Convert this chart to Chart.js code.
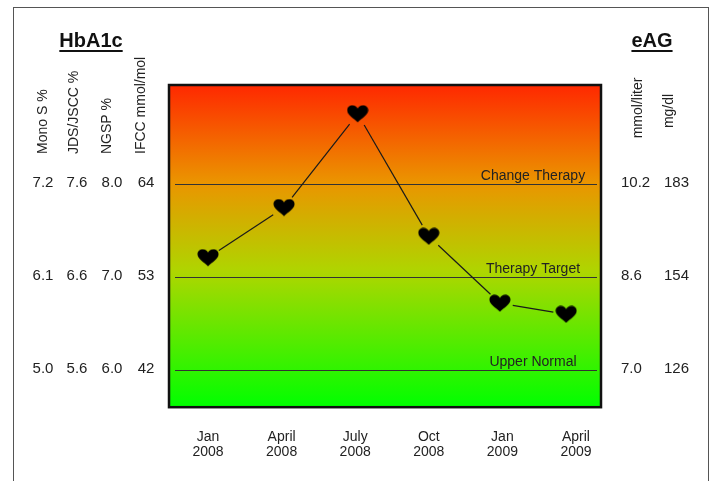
<!DOCTYPE html>
<html>
<head>
<meta charset="utf-8">
<script src="https://cdn.jsdelivr.net/npm/chart.js@4.4.1/dist/chart.umd.min.js"></script>
<style>
  body { margin: 0; background: #fff; }
  #wrap { width: 710px; height: 481px; }
</style>
</head>
<body>
<div id="wrap"><canvas id="hba1cChart" width="710" height="481"></canvas></div>
<script>
// dados
const categories = [["Jan", "2008"], ["April", "2008"], ["July", "2008"], ["Oct", "2008"], ["Jan", "2009"], ["April", "2009"]];
const tickMonths = [0, 3, 6, 9, 12, 15];
const testMonths = [0, 3.1, 6.1, 9.0, 11.9, 14.6];
const ngspValues = [7.21, 7.75, 8.76, 7.44, 6.72, 6.60];

const levelValues = [8.0, 7.0, 6.0];
const levelNames = ["Change Therapy", "Therapy Target", "Upper Normal"];
const monoS = ["7.2", "6.1", "5.0"];
const jdsJscc = ["7.6", "6.6", "5.6"];
const ngsp = ["8.0", "7.0", "6.0"];
const ifcc = ["64", "53", "42"];
const mmolLiter = ["10.2", "8.6", "7.0"];
const mgDl = ["183", "154", "126"];

const FONT = '"Liberation Sans", Arial, sans-serif';
const TEXT = "#222";

function makeHeart() {
  const c = document.createElement("canvas");
  c.width = 22;
  c.height = 18;
  const ctx = c.getContext("2d");
  ctx.fillStyle = "#000";
  ctx.beginPath();
  ctx.moveTo(11, 17.5);
  ctx.bezierCurveTo(7, 13.5, 0.5, 10, 0.5, 5.5);
  ctx.bezierCurveTo(0.5, 2, 3, 0.5, 5.8, 0.5);
  ctx.bezierCurveTo(8.3, 0.5, 10.2, 2, 11, 3.8);
  ctx.bezierCurveTo(11.8, 2, 13.7, 0.5, 16.2, 0.5);
  ctx.bezierCurveTo(19, 0.5, 21.5, 2, 21.5, 5.5);
  ctx.bezierCurveTo(21.5, 10, 15, 13.5, 11, 17.5);
  ctx.closePath();
  ctx.fill();
  return c;
}

const backgroundPlugin = {
  id: "background",
  beforeDatasetsDraw(chart) {
    const { ctx, chartArea: a, scales } = chart;
    ctx.save();
    const grad = ctx.createLinearGradient(0, a.top, 0, a.bottom);
    grad.addColorStop(0, "#ff2800");
    grad.addColorStop(0.3, "#eb9400");
    grad.addColorStop(0.58, "#aed600");
    grad.addColorStop(1, "#00ff00");
    ctx.fillStyle = grad;
    ctx.fillRect(a.left, a.top, a.right - a.left, a.bottom - a.top);

    // linhas de referência
    ctx.strokeStyle = "#333";
    ctx.lineWidth = 1;
    ctx.font = "14px " + FONT;
    ctx.fillStyle = TEXT;
    ctx.textAlign = "center";
    ctx.textBaseline = "alphabetic";
    levelValues.forEach((v, i) => {
      const y = Math.round(scales.y.getPixelForValue(v)) + 0.5;
      ctx.beginPath();
      ctx.moveTo(a.left + 6, y);
      ctx.lineTo(a.right - 4, y);
      ctx.stroke();
      ctx.fillText(levelNames[i], a.right - 68, y - 5);
    });

    // segmentos entre os corações, sem encostar
    const pts = chart.getDatasetMeta(0).data;
    ctx.strokeStyle = "#1a1a1a";
    ctx.lineWidth = 1.2;
    for (let i = 0; i < pts.length - 1; i++) {
      const p = pts[i], q = pts[i + 1];
      const dx = q.x - p.x, dy = q.y - p.y;
      const len = Math.sqrt(dx * dx + dy * dy);
      const gap = 13;
      ctx.beginPath();
      ctx.moveTo(p.x + dx / len * gap, p.y + dy / len * gap);
      ctx.lineTo(q.x - dx / len * gap, q.y - dy / len * gap);
      ctx.stroke();
    }
    ctx.restore();
  },
  afterDraw(chart) {
    const { ctx, chartArea: a, scales } = chart;
    ctx.save();
    // moldura da área
    ctx.strokeStyle = "#111";
    ctx.lineWidth = 2.5;
    ctx.strokeRect(a.left, a.top, a.right - a.left, a.bottom - a.top);

    // borda externa
    ctx.strokeStyle = "#555";
    ctx.lineWidth = 1;
    ctx.strokeRect(13.5, 7.5, 695, 500);

    // títulos
    ctx.fillStyle = "#111";
    ctx.font = "bold 20px " + FONT;
    ctx.textAlign = "center";
    ctx.textBaseline = "middle";
    ctx.fillText("HbA1c", 91, 41);
    ctx.fillText("eAG", 652, 41);
    ctx.fillRect(91 - ctx.measureText("HbA1c").width / 2, 50, ctx.measureText("HbA1c").width, 2);
    ctx.fillRect(652 - ctx.measureText("eAG").width / 2, 50, ctx.measureText("eAG").width, 2);

    // cabeçalhos girados
    ctx.fillStyle = TEXT;
    ctx.font = "14px " + FONT;
    const leftHeads = [["Mono S %", 43.5], ["JDS/JSCC %", 74], ["NGSP %", 107.5], ["IFCC mmol/mol", 141]];
    leftHeads.forEach(h => {
      ctx.save();
      ctx.translate(h[1], 154);
      ctx.rotate(-Math.PI / 2);
      ctx.textAlign = "left";
      ctx.textBaseline = "middle";
      ctx.fillText(h[0], 0, 0);
      ctx.restore();
    });
    const rightHeads = [["mmol/liter", 638, 108], ["mg/dl", 669, 111]];
    rightHeads.forEach(h => {
      ctx.save();
      ctx.translate(h[1], h[2]);
      ctx.rotate(-Math.PI / 2);
      ctx.textAlign = "center";
      ctx.textBaseline = "middle";
      ctx.fillText(h[0], 0, 0);
      ctx.restore();
    });

    // valores das colunas
    ctx.font = "15px " + FONT;
    ctx.textBaseline = "middle";
    levelValues.forEach((v, i) => {
      const y = scales.y.getPixelForValue(v) - 1;
      ctx.textAlign = "center";
      ctx.fillText(monoS[i], 43, y);
      ctx.fillText(jdsJscc[i], 77, y);
      ctx.fillText(ngsp[i], 112, y);
      ctx.fillText(ifcc[i], 146, y);
      ctx.textAlign = "left";
      ctx.fillText(mmolLiter[i], 621, y);
      ctx.fillText(mgDl[i], 664, y);
    });
    ctx.restore();
  }
};

const ctx = document.getElementById("hba1cChart").getContext("2d");
new Chart(ctx, {
  type: "line",
  data: {
    datasets: [{
      data: testMonths.map((m, i) => ({ x: m, y: ngspValues[i] })),
      showLine: false,
      pointStyle: makeHeart(),
      pointRadius: 10,
      pointHoverRadius: 10
    }]
  },
  options: {
    responsive: false,
    animation: false,
    devicePixelRatio: 1,
    layout: { padding: { left: 169, right: 109, top: 85, bottom: -1 } },
    plugins: {
      legend: { display: false },
      tooltip: { enabled: false }
    },
    scales: {
      x: {
        type: "linear",
        min: -1.59,
        max: 16.02,
        grid: { display: false, drawTicks: false },
        border: { display: false },
        afterBuildTicks: axis => { axis.ticks = tickMonths.map(v => ({ value: v })); },
        ticks: {
          padding: 22,
          color: TEXT,
          font: { family: FONT, size: 14, lineHeight: 1.1 },
          maxRotation: 0,
          autoSkip: false,
          callback: (v) => categories[tickMonths.indexOf(v)]
        }
      },
      y: {
        display: false,
        min: 5.60,
        max: 9.07
      }
    }
  },
  plugins: [backgroundPlugin]
});
</script>
</body>
</html>
